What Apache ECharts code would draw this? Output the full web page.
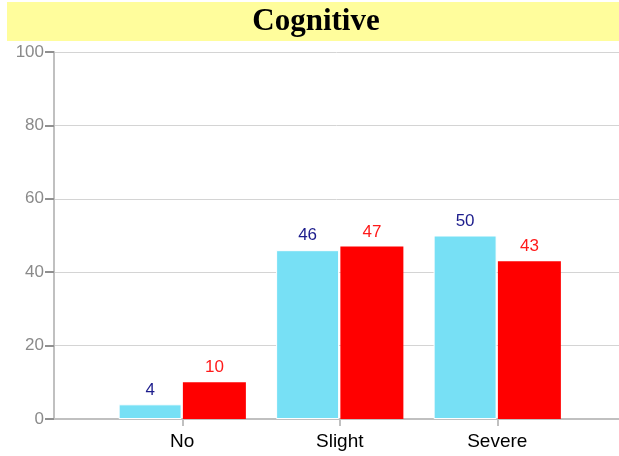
<!DOCTYPE html>
<html>
<head>
<meta charset="utf-8">
<script src="https://cdn.jsdelivr.net/npm/echarts@6/dist/echarts.min.js"></script>
<style>html,body{margin:0;padding:0;background:#fff}#c{width:619px;height:456px}</style>
</head>
<body>
<div id="c"></div>
<script>
const titleText = 'Cognitive';
const categories = ['No', 'Slight', 'Severe'];
const seriesA = [4, 46, 50];
const seriesB = [10, 47, 43];
const yTicks = [0, 20, 40, 60, 80, 100];

const chart = echarts.init(document.getElementById('c'), null, {renderer: 'canvas'});
const font = '"Liberation Sans", Arial, sans-serif';
chart.setOption({
  animation: false,
  graphic: [
    {type: 'rect', left: 7, top: 2, shape: {width: 612, height: 39}, style: {fill: '#FFFD9C'}, z: 0},
    {type: 'text', x: 316, y: 22, style: {text: titleText, font: 'bold 31px "Liberation Serif", "Times New Roman", serif', fill: '#000', align: 'center', verticalAlign: 'middle'}, z: 1}
  ],
  grid: [
    {left: 54, right: 0, top: 52, bottom: 37},
    {left: 103.5, width: 472.5, top: 52, bottom: 37}
  ],
  xAxis: [
    {gridIndex: 0, type: 'category', data: [''], axisLine: {show: true, lineStyle: {color: '#c0c0c0', width: 2}}, axisTick: {show: false}, axisLabel: {show: false}, splitLine: {show: false}},
    {gridIndex: 1, type: 'category', data: categories, axisLine: {show: false},
     axisTick: {show: true, alignWithLabel: true, length: 7, lineStyle: {color: '#c0c0c0', width: 2}},
     axisLabel: {color: '#000', fontSize: 19, fontFamily: font, margin: 13}}
  ],
  yAxis: [
    {gridIndex: 0, type: 'value', min: yTicks[0], max: yTicks[yTicks.length - 1], interval: 20,
     axisLine: {show: true, lineStyle: {color: '#c0c0c0', width: 2}},
     axisTick: {show: true, length: 9, lineStyle: {color: '#909090', width: 2}},
     axisLabel: {color: '#8a8a8a', fontSize: 17, fontFamily: font, margin: 10},
     splitLine: {show: true, lineStyle: {color: '#d4d4d4', width: 1}}},
    {gridIndex: 1, type: 'value', min: 0, max: 100, show: false}
  ],
  series: [
    {type: 'bar', xAxisIndex: 1, yAxisIndex: 1, data: seriesA, barWidth: 63, barGap: '2%',
     itemStyle: {color: '#77E0F5', borderColor: '#fff', borderWidth: 1},
     label: {show: true, position: 'top', distance: 6, color: '#1c1c8c', fontSize: 17, fontFamily: font}},
    {type: 'bar', xAxisIndex: 1, yAxisIndex: 1, data: seriesB, barWidth: 63, barGap: '2%',
     itemStyle: {color: '#FF0000'},
     label: {show: true, position: 'top', distance: 6, color: '#FF1a1a', fontSize: 17, fontFamily: font}}
  ]
});
</script>
</body>
</html>
